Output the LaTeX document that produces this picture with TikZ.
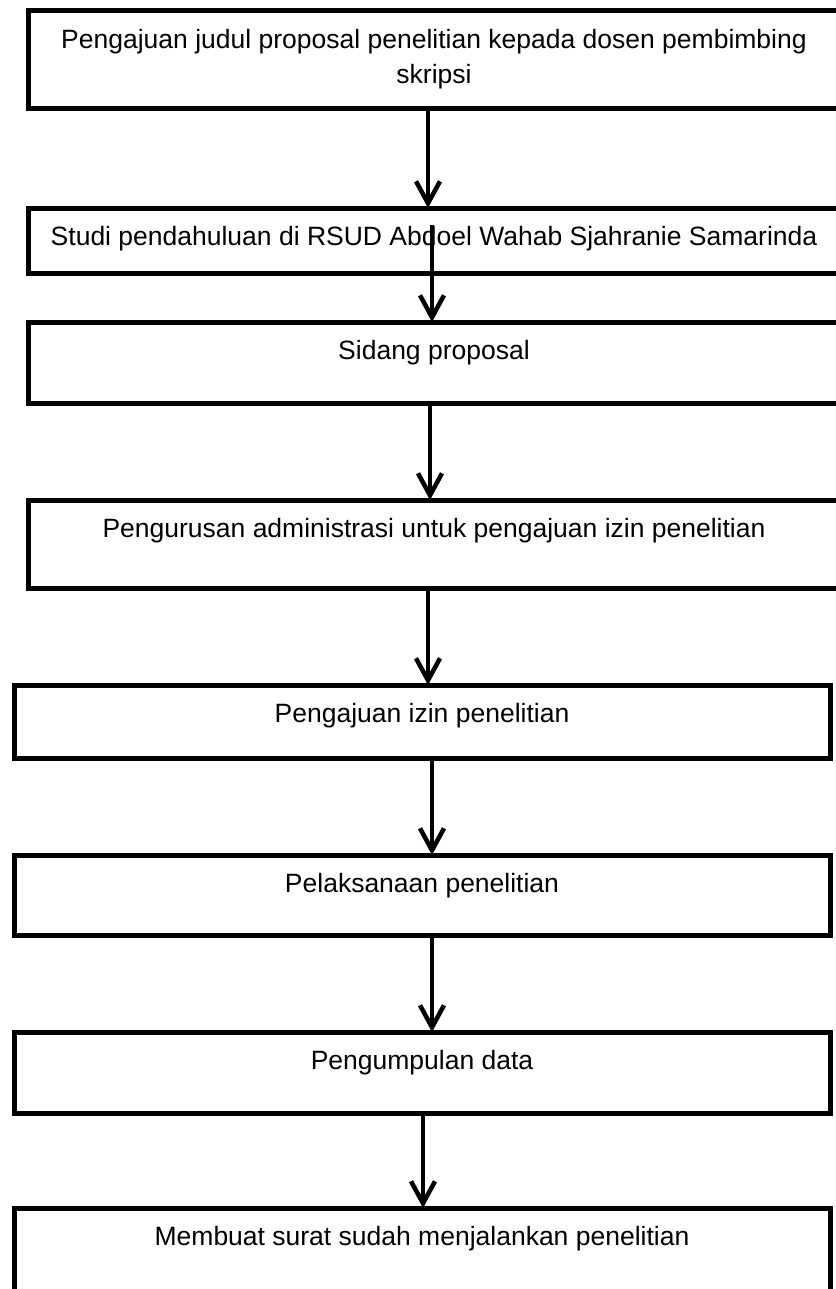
\documentclass[tikz,border=0pt]{standalone}
\usepackage{fontspec}
\setmainfont{Liberation Sans}
\usetikzlibrary{arrows.meta}
\tikzset{
  kotak/.style={draw, line width=5bp, inner sep=0pt, outer sep=0pt, anchor=north west},
  teks/.style={font=\fontsize{26.5bp}{35bp}\selectfont, align=center, inner sep=0pt, text height=20bp, text depth=7bp},
  panah/.style={line width=4.5bp, -{Straight Barb[length=22bp, width=24bp]}}
}
\newcommand{\Kotak}[5]{\node[kotak, minimum width=#4bp, minimum height=#5bp] (#1) at (#2,#3) {};}
\newcommand{\Teks}[4]{\node[teks] (#1) at (#2,#3) {#4};}

\begin{document}
\begin{tikzpicture}[x=1bp, y=-1bp]
\path[use as bounding box, clip] (0,0) rectangle (836,1289);

\Kotak{k1}{28}{10}{822}{98}
	\Kotak{k2}{28}{208}{822}{65}
	\Kotak{k3}{28}{322}{822}{81}
	\Kotak{k4}{28}{500}{822}{88}
	\Kotak{k5}{14}{685}{816}{73}
	\Kotak{k6}{14}{855}{816}{80}
	\Kotak{k7}{14}{1032}{816}{81}
	\Kotak{k8}{14}{1208}{816}{110}
	
	\Teks{t1}{434}{77}{Pengajuan judul proposal penelitian kepada dosen pembimbing\\skripsi}
	\Teks{t2}{434}{239}{Studi pendahuluan di RSUD Abdoel Wahab Sjahranie Samarinda}
	\Teks{t3}{434}{353}{Sidang proposal}
	\Teks{t4}{434}{531}{Pengurusan administrasi untuk pengajuan izin penelitian}
	\Teks{t5}{422}{716}{Pengajuan izin penelitian}
	\Teks{t6}{422}{886}{Pelaksanaan penelitian}
	\Teks{t7}{422}{1063}{Pengumpulan data}
	\Teks{t8}{422}{1239}{Membuat surat sudah menjalankan penelitian}
	
	\coordinate (p2) at (432,225);
	
	\draw[panah] (k1.south -| 428,0) -- (k2.north -| 428,0);
	\draw[panah] (p2) -- (k3.north -| p2);
	\draw[panah] (k3.south -| 430,0) -- (k4.north -| 430,0);
	\draw[panah] (k4.south -| 428,0) -- (k5.north -| 428,0);
	\draw[panah] (k5.south -| 432,0) -- (k6.north -| 432,0);
	\draw[panah] (k6.south -| 432,0) -- (k7.north -| 432,0);
	\draw[panah] (k7.south -| 423,0) -- (k8.north -| 423,0);

\end{tikzpicture}
\end{document}
